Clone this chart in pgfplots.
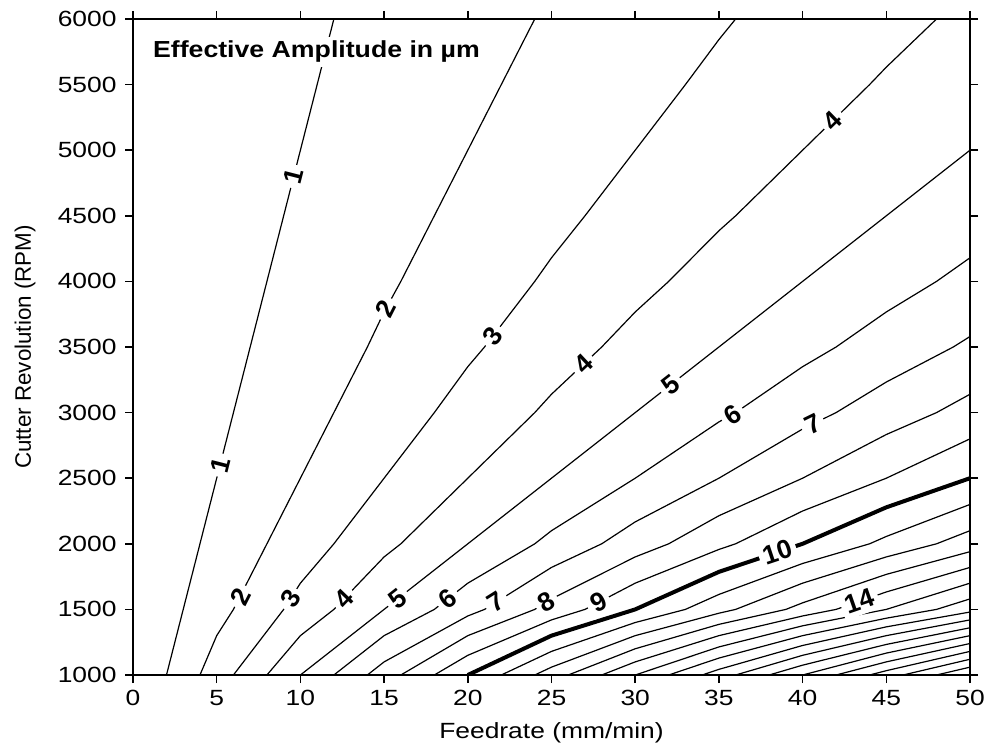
\documentclass[border=0pt]{standalone}
\usepackage{fontspec}
\setmainfont{Liberation Sans}
\usepackage{pgfplots}
\pgfplotsset{compat=1.18}

\begin{document}
\begin{tikzpicture}[
    clabel/.style={fill=white, inner sep=2.2pt, font=\bfseries\fontsize{13.2}{15}\selectfont},
  ]
  \begin{axis}[
    scale only axis,
    width=418.5pt,
    height=328pt,
    xmin=0, xmax=50,
    ymin=1000, ymax=6000,
    xtick={0,5,...,50},
    ytick={1000,1500,...,6000},
    tick align=outside,
    major tick length=4pt,
    axis line style={line width=0.75pt},
    every tick/.style={black, line width=0.75pt},
    /pgf/number format/assume math mode=true,
    /pgf/number format/1000 sep={},
    every tick label/.append style={font=\fontsize{11}{13}\selectfont, xscale=1.2},
    every axis x label/.style={at={(axis description cs:0.5,-0.0884)}, anchor=center,
      font=\fontsize{11}{13}\selectfont, xscale=1.2},
    every axis y label/.style={at={(axis description cs:-0.129,0.5)}, anchor=center,
      rotate=90, font=\fontsize{11.2}{13}\selectfont},
    xlabel={Feedrate (mm/min)},
    ylabel={Cutter Revolution (RPM)},
    contour/.style={black, line width=0.6pt, no markers},
  ]

  % level 1
  \addplot[contour] coordinates {(2,1000) (3,1500) (4,2000) (5,2500) (6,3000) (7,3500) (8,4000) (9,4500) (10,5000) (11,5500) (12,6000)};
  % level 2
  \addplot[contour] coordinates {(4,1000) (5,1300) (6,1500) (8,2000) (10,2500) (12,3000) (14,3500) (15,3767) (16,4000) (18,4500) (20,5000) (22,5500) (24,6000)};
  % level 3
  \addplot[contour] coordinates {(6,1000) (9,1500) (10,1700) (12,2000) (15,2500) (18,3000) (20,3350) (21,3500) (24,4000) (25,4180) (27,4500) (30,5000) (33,5500) (35,5843) (36,6000)};
  % level 4
  \addplot[contour] coordinates {(8,1000) (10,1300) (12,1500) (15,1900) (16,2000) (20,2500) (24,3000) (25,3140) (28,3500) (30,3767) (32,4000) (35,4386) (36,4500) (40,5000) (44,5500) (45,5633) (48,6000)};
  % level 5
  \addplot[contour] coordinates {(10,1000) (15,1500) (20,2000) (25,2500) (30,3000) (35,3500) (40,4000) (45,4500) (50,5000)};
  % level 6
  \addplot[contour] coordinates {(12,1000) (15,1300) (18,1500) (20,1700) (24,2000) (25,2100) (30,2500) (35,2929) (36,3000) (40,3350) (42,3500) (45,3767) (48,4000) (50,4180)};
  % level 7
  \addplot[contour] coordinates {(14,1000) (15,1100) (20,1450) (21,1500) (25,1820) (28,2000) (30,2167) (35,2500) (40,2875) (42,3000) (45,3233) (49,3500) (50,3580)};
  % level 8
  \addplot[contour] coordinates {(16,1000) (20,1300) (24,1500) (25,1580) (30,1900) (32,2000) (35,2214) (40,2500) (45,2833) (48,3000) (50,3140)};
  % level 9
  \addplot[contour] coordinates {(18,1000) (20,1150) (25,1420) (27,1500) (30,1700) (35,1957) (36,2000) (40,2250) (45,2500) (50,2800)};
  % level 10 (bold)
  \addplot[contour, line width=2pt] coordinates {(20,1000) (25,1300) (30,1500) (35,1786) (40,2000) (45,2278) (50,2500)};
  % levels 11 .. 24
  \addplot[contour] coordinates {(22,1000) (25,1180) (30,1400) (33,1500) (35,1614) (40,1850) (44,2000) (45,2056) (50,2300)};
  \addplot[contour] coordinates {(24,1000) (25,1060) (30,1300) (35,1471) (36,1500) (40,1700) (45,1900) (48,2000) (50,2100)};
  \addplot[contour] coordinates {(26,1000) (30,1200) (35,1386) (39,1500) (40,1550) (45,1767) (50,1940)};
  \addplot[contour] coordinates {(28,1000) (30,1100) (35,1300) (40,1450) (42,1500) (45,1633) (50,1820)};
  \addplot[contour] coordinates {(30,1000) (35,1214) (40,1375) (45,1500) (50,1700)};
  \addplot[contour] coordinates {(32,1000) (35,1129) (40,1300) (45,1433) (48,1500) (50,1580)};
  \addplot[contour] coordinates {(34,1000) (35,1043) (40,1225) (45,1367) (50,1480)};
  \addplot[contour] coordinates {(36,1000) (40,1150) (45,1300) (50,1420)};
  \addplot[contour] coordinates {(38,1000) (40,1075) (45,1233) (50,1360)};
  \addplot[contour] coordinates {(40,1000) (45,1167) (50,1300)};
  \addplot[contour] coordinates {(42,1000) (45,1100) (50,1240)};
  \addplot[contour] coordinates {(44,1000) (45,1033) (50,1180)};
  \addplot[contour] coordinates {(46,1000) (50,1120)};
  \addplot[contour] coordinates {(48,1000) (50,1060)};

  % contour labels
  \node[clabel, rotate=75.7] at (axis cs:9.6,4800) {1};
  \node[clabel, rotate=75.7] at (axis cs:5.2,2600) {1};
  \node[clabel, rotate=63] at (axis cs:15.1,3790) {2};
  \node[clabel, rotate=63] at (axis cs:6.4,1600) {2};
  \node[clabel, rotate=52.6] at (axis cs:21.5,3583) {3};
  \node[clabel, rotate=57.5] at (axis cs:9.4,1580) {3};
  \node[clabel, rotate=44.4] at (axis cs:41.8,5225) {4};
  \node[clabel, rotate=43.3] at (axis cs:26.9,3368) {4};
  \node[clabel, rotate=46.3] at (axis cs:12.6,1580) {4};
  \node[clabel, rotate=38.1] at (axis cs:32.1,3210) {5};
  \node[clabel, rotate=38.1] at (axis cs:15.8,1580) {5};
  \node[clabel, rotate=33] at (axis cs:35.8,2986) {6};
  \node[clabel, rotate=38.1] at (axis cs:18.8,1580) {6};
  \node[clabel, rotate=26.1] at (axis cs:40.6,2912) {7};
  \node[clabel, rotate=32.1] at (axis cs:21.7,1556) {7};
  \node[clabel, rotate=30] at (axis cs:24.7,1556) {8};
  \node[clabel, rotate=27.6] at (axis cs:27.8,1553) {9};
  \node[clabel, rotate=18.5] at (axis cs:38.5,1936) {10};
  \node[clabel, rotate=19.2] at (axis cs:43.4,1562) {14};

  % title
  \node[anchor=west, fill=white, inner sep=2pt, xscale=1.15,
        font=\bfseries\fontsize{11.6}{14}\selectfont] at (axis cs:0.9,5750) {Effective Amplitude in µm};
  \end{axis}
  \pgfresetboundingbox
  \path[use as bounding box] ([shift={(-66.5pt,-37pt)}]current axis.south west)
    rectangle ([shift={(14pt,9.5pt)}]current axis.north east);
\end{tikzpicture}
\end{document}
